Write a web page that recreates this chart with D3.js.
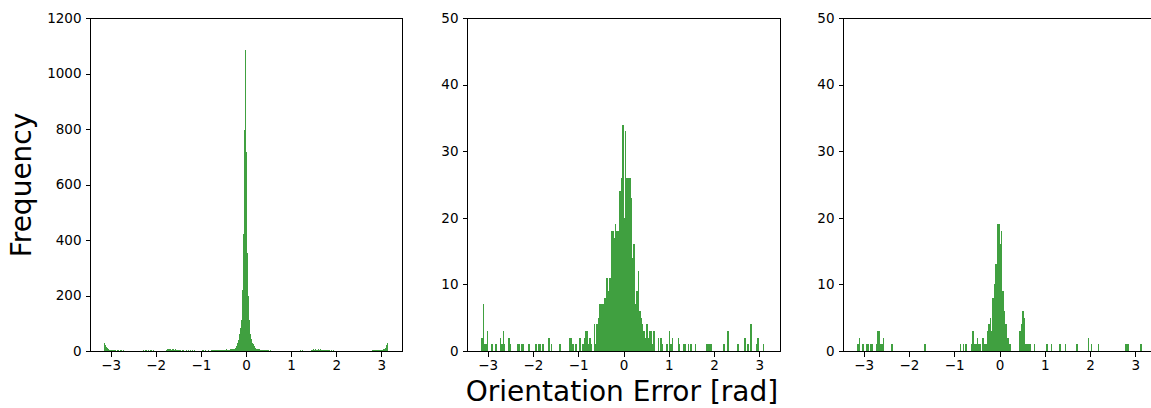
<!DOCTYPE html>
<html>
<head>
<meta charset="utf-8">
<script src="https://cdn.jsdelivr.net/npm/d3@7"></script>
<style>
  html, body { margin: 0; padding: 0; background: #fff; }
  svg { display: block; }
  text { font-family: "DejaVu Sans", sans-serif; }
</style>
</head>
<body>
<svg id="chart" width="1151" height="408"></svg>
<script>
// ---------------- DATA ----------------
const xTicks = [-3, -2, -1, 0, 1, 2, 3];
const yTicks1 = [0, 200, 400, 600, 800, 1000, 1200];
const yTicks23 = [0, 10, 20, 30, 40, 50];
const xLabel = "Orientation Error [rad]";
const yLabel = "Frequency";

// histogram bins over [-pi, pi]
const nBins1 = 300;
const nBins23 = 200;

// panel 1: bin index -> count
const p1Bins = [0,1,2,3,4,5,6,7,8,9,10,11,12,14,15,17,18,20,
  41,43,44,46,48,50,52,
  65,66,67,68,69,70,71,72,73,74,75,76,77,78,79,80,82,83,85,87,89,91,93,95,
  103,105,107,110,113,114,115,116,117,118,119,120,121,122,123,124,125,126,127,128,129,130,131,132,133,134,135,136,137,138,139,
  140,141,142,143,144,145,146,147,148,149,150,151,152,153,154,155,156,157,158,159,
  160,161,162,163,164,165,166,167,168,169,170,171,172,173,175,
  207,209,
  219,220,221,222,223,224,225,226,227,228,229,230,231,232,233,234,235,236,237,238,240,242,
  283,284,285,286,287,288,289,290,291,292,293,294,295,296,297,298,299];
const p1Counts = [30,22,14,10,7,5,4,4,3,4,3,3,2,3,2,3,2,2,
  2,3,2,3,2,3,2,
  5,7,6,8,6,7,5,6,7,5,6,5,4,5,4,5,4,3,4,3,3,2,3,2,
  2,3,2,3,4,3,4,5,4,3,4,5,4,4,5,4,5,4,5,5,6,4,5,5,6,6,6,7,8,12,18,
  25,30,40,60,83,110,220,420,796,1085,718,353,200,110,60,45,30,25,18,15,
  10,8,7,6,6,5,5,4,4,3,3,2,3,2,2,
  2,2,
  4,5,6,5,6,5,4,6,5,6,5,4,5,4,5,3,4,3,4,3,3,2,
  3,4,3,4,3,4,4,3,4,5,4,5,6,8,12,20,30];

// panel 2
const p2Bins = [0,1,2,3,4,7,10,13,14,15,16,19,20,25,26,28,29,33,38,40,41,43,47,49,55,62,63,64,66,69,71,
  72,73,74,75,76,77,79,80,81,82,83,84,85,86,87,88,89,90,91,92,93,94,95,96,97,98,99,
  100,101,102,103,104,105,106,107,108,109,110,111,112,113,114,115,116,117,118,119,120,121,124,126,127,
  130,132,133,134,138,139,142,143,145,147,150,158,159,160,161,170,173,180,185,187,189,193,194,198];
const p2Counts = [2,7,1,1,3,1,1,2,1,3,1,2,1,1,1,1,1,1,1,1,1,1,2,1,1,2,2,1,1,2,1,
  2,3,3,1,2,1,4,1,4,5,7,7,7,8,8,11,9,11,18,18,17,19,18,18,24,26,34,
  20,33,26,26,26,23,14,16,7,9,12,6,5,4,3,2,4,2,3,3,1,3,2,2,1,
  1,3,1,2,2,1,1,1,1,1,1,1,1,1,1,1,3,1,2,1,4,1,2,1];

// panel 3
const p3Bins = [0,1,3,4,6,7,9,10,13,14,15,16,17,18,24,47,72,74,76,80,81,82,83,84,85,86,88,89,90,
  91,92,93,94,95,96,97,98,99,100,101,102,103,104,105,106,107,
  114,115,116,117,118,119,120,121,124,133,136,142,146,154,162,164,169,188,189,190,199];
const p3Counts = [1,2,1,1,1,1,1,1,1,3,3,1,1,2,1,1,1,1,1,1,3,1,1,2,1,1,2,1,1,
  3,4,5,3,8,10,13,19,19,16,18,9,6,4,2,2,1,
  3,4,6,5,1,1,1,1,1,1,1,1,1,1,2,1,1,1,1,1,1];

// ---------------- LAYOUT ----------------
const svg = d3.select("#chart");
const plotTop = 18, plotBottom = 351;
const xDomain = [-3.456, 3.456];
const barColor = "#008000";

const panels = [
  { left: 90,  right: 402,  bins: p1Bins, counts: p1Counts, n: nBins1,  yMax: 1200, yTicks: yTicks1 },
  { left: 467, right: 780,  bins: p2Bins, counts: p2Counts, n: nBins23, yMax: 50,   yTicks: yTicks23 },
  { left: 843, right: 1156, bins: p3Bins, counts: p3Counts, n: nBins23, yMax: 50,   yTicks: yTicks23 }
];

panels.forEach(p => {
  const x = d3.scaleLinear().domain(xDomain).range([p.left, p.right]);
  const y = d3.scaleLinear().domain([0, p.yMax]).range([plotBottom, plotTop]);
  const w = 2 * Math.PI / p.n;
  const data = p.bins.map((k, i) => ({ x0: -Math.PI + k * w, x1: -Math.PI + (k + 1) * w, c: p.counts[i] }));

  const g = svg.append("g");
  g.selectAll("rect.bar").data(data).join("rect")
    .attr("class", "bar")
    .attr("x", d => x(d.x0))
    .attr("width", d => Math.max(0.5, x(d.x1) - x(d.x0)))
    .attr("y", d => y(d.c))
    .attr("height", d => y(0) - y(d.c))
    .attr("fill", barColor)
    .attr("fill-opacity", 0.75)
    .attr("shape-rendering", "crispEdges");

  // frame
  g.append("rect")
    .attr("x", p.left + 0.5).attr("y", plotTop + 0.5)
    .attr("width", p.right - p.left).attr("height", plotBottom - plotTop)
    .attr("fill", "none").attr("stroke", "#000").attr("stroke-width", 1)
    .attr("shape-rendering", "crispEdges");

  const xa = g.append("g").attr("transform", `translate(0,${plotBottom + 0.5})`)
    .call(d3.axisBottom(x).tickValues(xTicks).tickSize(5).tickPadding(4).tickSizeOuter(0).tickFormat(d3.format("d")));
  xa.select(".domain").remove();
  xa.selectAll("text").attr("font-size", "13.5px").attr("fill", "#000").attr("font-family", "DejaVu Sans");
  xa.selectAll("line").attr("stroke", "#000").attr("shape-rendering", "crispEdges");

  const ya = g.append("g").attr("transform", `translate(${p.left + 0.5},0)`)
    .call(d3.axisLeft(y).tickValues(p.yTicks).tickSize(5).tickPadding(4).tickSizeOuter(0).tickFormat(d3.format("d")));
  ya.select(".domain").remove();
  ya.selectAll("text").attr("font-size", "13.5px").attr("fill", "#000").attr("font-family", "DejaVu Sans");
  ya.selectAll("line").attr("stroke", "#000").attr("shape-rendering", "crispEdges");
});

// axis titles
svg.append("text")
  .attr("x", 622).attr("y", 401)
  .attr("text-anchor", "middle")
  .attr("font-size", "28px")
  .attr("fill", "#000")
  .text(xLabel);

svg.append("text")
  .attr("transform", "translate(31,185) rotate(-90)")
  .attr("text-anchor", "middle")
  .attr("font-size", "28px")
  .attr("fill", "#000")
  .text(yLabel);
</script>
</body>
</html>
